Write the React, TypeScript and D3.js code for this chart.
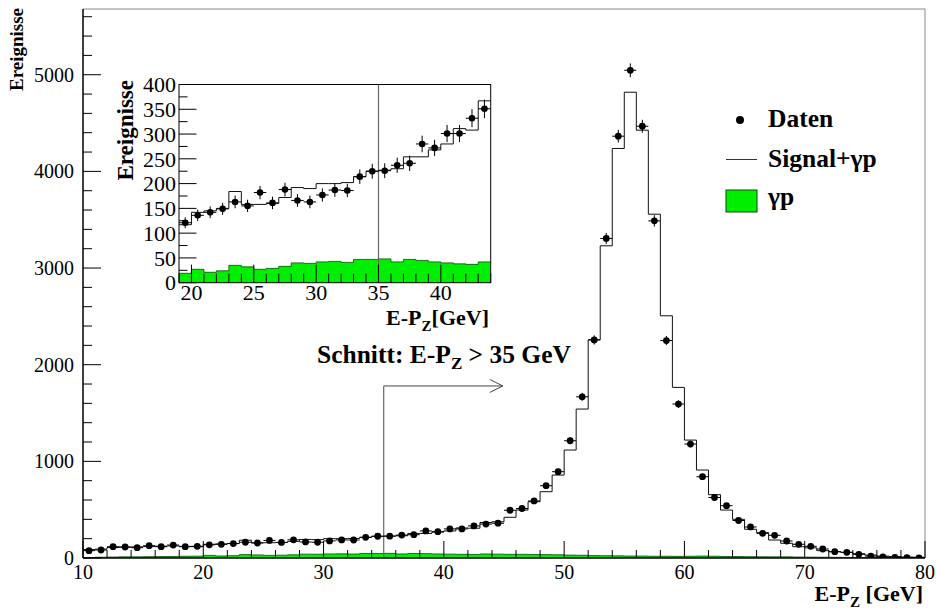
import React from "react";
import * as d3 from "d3";

// Bin lower edges (1 GeV bins, 10..80)
const binEdges: number[] = d3.range(10, 80, 1);

// Data ("Daten")
const dataCounts: number[] = [
  76, 83, 117, 114, 107, 127, 117, 134, 117, 121,
  136, 142, 149, 163, 155, 182, 161, 188, 166, 163,
  177, 187, 186, 214, 225, 226, 237, 241, 280, 272,
  301, 301, 332, 351, 360, 494, 512, 590, 748, 893,
  1213, 1668, 2256, 3306, 4364, 5046, 4467, 3488, 2250, 1593,
  1179, 841, 626, 541, 388, 321, 255, 235, 176, 142,
  121, 93, 65, 59, 38, 20, 12, 6, 3, 2,
];

// Monte Carlo "Signal+γp"
const mcCounts: number[] = [
  88, 92, 108, 112, 115, 118, 122, 125, 120, 117,
  142, 145, 150, 184, 158, 158, 160, 172, 192, 190,
  200, 200, 202, 214, 225, 227, 230, 254, 254, 268,
  280, 311, 308, 367, 375, 421, 496, 582, 686, 858,
  1117, 1541, 2258, 3230, 4237, 4819, 4426, 3557, 2506, 1765,
  1220, 910, 655, 496, 400, 297, 262, 186, 152, 117,
  105, 76, 65, 58, 45, 30, 20, 15, 10, 8,
];

// Background "γp"
const gpCounts: number[] = [
  5, 8, 10, 12, 12, 14, 15, 16, 18, 19,
  27, 21, 24, 35, 32, 27, 29, 33, 40, 39,
  42, 43, 41, 47, 47, 48, 42, 47, 45, 42,
  40, 38, 37, 42, 40, 38, 38, 36, 35, 33,
  30, 28, 25, 24, 22, 20, 20, 18, 18, 17,
  18, 20, 18, 16, 15, 14, 13, 12, 12, 10,
  9, 8, 7, 6, 5, 5, 4, 3, 3, 2,
];

const mainXTickLabels: number[] = [10, 20, 30, 40, 50, 60, 70, 80];
const mainYTickLabels: number[] = [0, 1000, 2000, 3000, 4000, 5000];
const insetXTickLabels: number[] = [20, 25, 30, 35, 40];
const insetYTickLabels: number[] = [0, 50, 100, 150, 200, 250, 300, 350, 400];

const cutValue = 35;
const arrowEnd = 44.9;
const arrowLevel = 1780;

const FAM = "Liberation Serif";
const GREEN = "#00ee00";

type Bin = { x0: number; x1: number; v: number; d: number; g: number };

function makeBins(): Bin[] {
  return binEdges.map((e, i) => ({ x0: e, x1: e + 1, v: mcCounts[i], d: dataCounts[i], g: gpCounts[i] }));
}

function stepPath(bins: Bin[], key: "v" | "g", x: d3.ScaleLinear<number, number>, y: d3.ScaleLinear<number, number>) {
  const pts: [number, number][] = bins.map((b) => [b.x0, b[key]]);
  const last = bins[bins.length - 1];
  pts.push([last.x1, last[key]]);
  return d3.line<[number, number]>().x((p) => x(p[0])).y((p) => y(p[1])).curve(d3.curveStepAfter)(pts) || "";
}
function stepArea(bins: Bin[], x: d3.ScaleLinear<number, number>, y: d3.ScaleLinear<number, number>) {
  const pts: [number, number][] = bins.map((b) => [b.x0, b.g]);
  const last = bins[bins.length - 1];
  pts.push([last.x1, last.g]);
  return d3.area<[number, number]>().x((p) => x(p[0])).y0(y(0)).y1((p) => y(p[1])).curve(d3.curveStepAfter)(pts) || "";
}

function DataPoints({ bins, x, y, r }: { bins: Bin[]; x: any; y: any; r: number }) {
  return (
    <g>
      {bins.map((b, i) => {
        const cx = x((b.x0 + b.x1) / 2);
        const cy = y(b.d);
        const err = Math.sqrt(b.d);
        return (
          <g key={i}>
            <line x1={x(b.x0)} x2={x(b.x1)} y1={cy} y2={cy} stroke="#000" strokeWidth={1} />
            <line x1={cx} x2={cx} y1={y(b.d - err)} y2={y(b.d + err)} stroke="#000" strokeWidth={1} />
            <circle cx={cx} cy={cy} r={r} fill="#000" />
          </g>
        );
      })}
    </g>
  );
}

function T(props: any) {
  const { children, ...rest } = props;
  return (
    <text fontFamily={FAM} style={{ fontFamily: `"${FAM}"` }} {...rest}>
      {children}
    </text>
  );
}

export default function App() {
  const W = 936, H = 609;
  const bins = makeBins();

  // Main plot scales
  const x = d3.scaleLinear().domain([10, 80]).range([83, 925]);
  const y = d3.scaleLinear().domain([0, 5680]).range([558, 9]);

  // Inset scales
  const ix = d3.scaleLinear().domain([19, 44]).range([179, 490.7]);
  const iy = d3.scaleLinear().domain([0, 400]).range([282.7, 84.5]);
  const insetBins = bins.filter((b) => b.x0 >= 19 && b.x1 <= 44);

  const mainXTicks = d3.range(10, 80.01, 2);
  const mainYTicks = d3.range(0, 5601, 200);
  const insetXTicks = d3.range(19, 44.01, 1);
  const insetYTicks = d3.range(0, 401, 25);

  return (
    <svg width={W} height={H} style={{ position: "absolute", left: 0, top: 0, background: "#fff" }}>
      <rect x={0} y={0} width={W} height={H} fill="#fff" />
      {/* ---------- main plot ---------- */}
      <defs>
        <clipPath id="mainClip">
          <rect x={x(10)} y={y(5680)} width={x(80) - x(10)} height={y(0) - y(5680)} />
        </clipPath>
        <clipPath id="insetClip">
          <rect x={ix(19)} y={iy(400)} width={ix(44) - ix(19)} height={iy(0) - iy(400)} />
        </clipPath>
      </defs>
      <g clipPath="url(#mainClip)">
        <path d={stepArea(bins, x, y)} fill={GREEN} stroke="none" />
        <path d={stepPath(bins, "g", x, y)} fill="none" stroke="#0a4a0a" strokeWidth={0.8} />
        {/* cut line + arrow */}
        <line x1={x(cutValue)} x2={x(cutValue)} y1={y(0)} y2={y(arrowLevel)} stroke="#666" strokeWidth={1.2} />
        <line x1={x(cutValue)} x2={x(arrowEnd)} y1={y(arrowLevel)} y2={y(arrowLevel)} stroke="#444" strokeWidth={1} />
        <polyline
          points={`${x(arrowEnd) - 13},${y(arrowLevel) - 6.5} ${x(arrowEnd)},${y(arrowLevel)} ${x(arrowEnd) - 13},${y(arrowLevel) + 6.5}`}
          fill="none" stroke="#444" strokeWidth={1}
        />
        <path d={stepPath(bins, "v", x, y)} fill="none" stroke="#111" strokeWidth={1} />
        <DataPoints bins={bins} x={x} y={y} r={3.4} />
      </g>
      {/* frame */}
      <line x1={x(10)} x2={x(80)} y1={y(5680)} y2={y(5680)} stroke="#888" strokeWidth={1} />
      <line x1={x(80)} x2={x(80)} y1={y(5680)} y2={y(0)} stroke="#888" strokeWidth={1} />
      <line x1={x(10)} x2={x(10)} y1={y(5680)} y2={y(0)} stroke="#000" strokeWidth={1.5} />
      <line x1={x(10)} x2={x(80)} y1={y(0)} y2={y(0)} stroke="#000" strokeWidth={1.5} />
      {/* main x ticks */}
      {mainXTicks.map((t) => (
        <line key={"mx" + t} x1={x(t)} x2={x(t)} y1={y(0)} y2={y(0) - (t % 10 === 0 ? 17 : 8)} stroke="#000" strokeWidth={1} />
      ))}
      {mainXTickLabels.map((t) => (
        <T key={"mxl" + t} x={x(t)} y={579} fontSize={20} textAnchor="middle">{t}</T>
      ))}
      {/* main y ticks */}
      {mainYTicks.map((t) => (
        <line key={"my" + t} x1={x(10)} x2={x(10) + (t % 1000 === 0 ? 18 : 9)} y1={y(t)} y2={y(t)} stroke="#000" strokeWidth={1} />
      ))}
      {mainYTickLabels.map((t) => (
        <T key={"myl" + t} x={74} y={y(t)} dy="0.35em" fontSize={20} textAnchor="end">{t}</T>
      ))}
      <T transform={`translate(23,8) rotate(-90)`} fontSize={19} fontWeight="bold" textAnchor="end">Ereignisse</T>
      <T x={923} y={601} fontSize={22} fontWeight="bold" textAnchor="end">
        <tspan>E-P</tspan>
        <tspan fontSize={15} dy={6}>Z</tspan>
        <tspan dy={-6}> [GeV]</tspan>
      </T>
      {/* cut annotation */}
      <T x={317} y={363} fontSize={25.5} fontWeight="bold">
        <tspan>Schnitt: E-P</tspan>
        <tspan fontSize={17} dy={6}>Z</tspan>
        <tspan dy={-6}> &gt; 35 GeV</tspan>
      </T>
      {/* legend */}
      <circle cx={740} cy={120} r={4} fill="#000" />
      <T x={768} y={127} fontSize={25.5} fontWeight="bold">Daten</T>
      <line x1={726} x2={757} y1={159.5} y2={159.5} stroke="#333" strokeWidth={1} />
      <T x={768} y={167} fontSize={25.5} fontWeight="bold">Signal+γp</T>
      <rect x={726} y={190} width={31} height={22} fill={GREEN} stroke="#0a4a0a" strokeWidth={1} />
      <T x={768} y={205} fontSize={25.5} fontWeight="bold">γp</T>

      {/* ---------- inset ---------- */}
      <rect x={ix(19)} y={iy(400)} width={ix(44) - ix(19)} height={iy(0) - iy(400)} fill="#fff" />
      <g clipPath="url(#insetClip)">
        <path d={stepArea(insetBins, ix, iy)} fill={GREEN} stroke="none" />
        <path d={stepPath(insetBins, "g", ix, iy)} fill="none" stroke="#0a4a0a" strokeWidth={0.8} />
        <line x1={ix(cutValue)} x2={ix(cutValue)} y1={iy(0)} y2={iy(400)} stroke="#666" strokeWidth={1.2} />
        <path d={stepPath(insetBins, "v", ix, iy)} fill="none" stroke="#111" strokeWidth={1} />
        <DataPoints bins={insetBins} x={ix} y={iy} r={3.3} />
      </g>
      <rect x={ix(19)} y={iy(400)} width={ix(44) - ix(19)} height={iy(0) - iy(400)} fill="none" stroke="#000" strokeWidth={1} />
      {insetXTicks.map((t) => (
        <line key={"ix" + t} x1={ix(t)} x2={ix(t)} y1={iy(0)} y2={iy(0) - (t % 5 === 0 ? 18 : 9)} stroke="#000" strokeWidth={1} />
      ))}
      {insetXTickLabels.map((t) => (
        <T key={"ixl" + t} x={ix(t)} y={300} fontSize={22} textAnchor="middle">{t}</T>
      ))}
      {insetYTicks.map((t) => (
        <line key={"iy" + t} x1={ix(19)} x2={ix(19) + (t % 50 === 0 ? 17.5 : 8.5)} y1={iy(t)} y2={iy(t)} stroke="#000" strokeWidth={1} />
      ))}
      {insetYTickLabels.map((t) => (
        <T key={"iyl" + t} x={176} y={iy(t)} dy="0.35em" fontSize={22} textAnchor="end">{t}</T>
      ))}
      <T transform={`translate(133,80) rotate(-90)`} fontSize={23} fontWeight="bold" textAnchor="end">Ereignisse</T>
      <T x={489} y={325} fontSize={22} fontWeight="bold" textAnchor="end">
        <tspan>E-P</tspan>
        <tspan fontSize={15} dy={6}>Z</tspan>
        <tspan dy={-6}>[GeV]</tspan>
      </T>
    </svg>
  );
}
